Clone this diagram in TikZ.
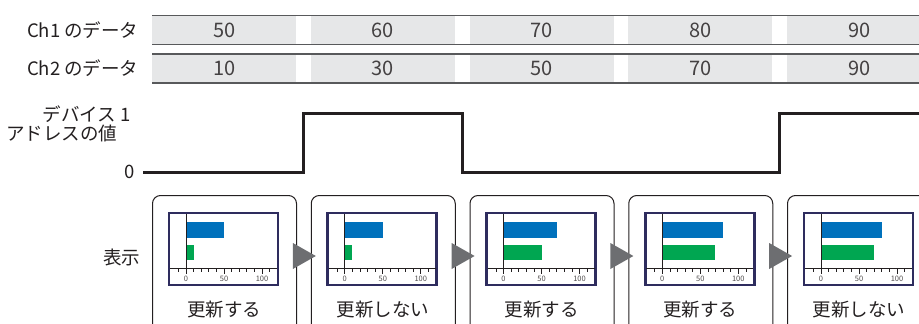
\documentclass[tikz,border=0pt]{standalone}
\usepackage{fontspec}
\setmainfont{Noto Sans CJK JP}
\usetikzlibrary{calc}
\definecolor{CellGray}{HTML}{E6E7E8}
\definecolor{RuleGray}{HTML}{58595B}
\definecolor{ArrowGray}{HTML}{6D6E71}
\definecolor{BarBlue}{HTML}{0071BC}
\definecolor{BarGreen}{HTML}{00A651}
\definecolor{FrameNavy}{HTML}{2E2C5E}
\definecolor{InkBlack}{HTML}{231F20}

\begin{document}
\begin{tikzpicture}[x=1pt, y=-1pt,
      cell/.style={fill=CellGray, minimum width=144pt, minimum height=29pt, inner sep=0pt,
                   anchor=west, text=InkBlack!85, font=\fontsize{20}{22}\selectfont},
      rowlabel/.style={anchor=east, text=InkBlack, font=\fontsize{18.5}{21}\selectfont},
      panel/.style={draw=InkBlack, line width=1pt, rounded corners=8pt, anchor=north west,
                    minimum width=144pt, minimum height=150pt},
      ticklabel/.style={font=\fontsize{7.5}{8}\selectfont, text=InkBlack!80, inner sep=0pt}]
      \useasboundingbox (0,0) rectangle (919,324);
      \clip (0,0) rectangle (919,324);

      % Row labels
      \node[rowlabel] (ch1) at (142,30) {Ch1 のデータ};
      \node[rowlabel] (ch2) at (142,68.5) {Ch2 のデータ};
      \node[rowlabel] (dev) at (134,114) {デバイス 1};
      \node[rowlabel] (addr) at (121,133) {アドレスの値};
      \node[rowlabel] (zero) at (138,172) {0};
      \node[rowlabel] (disp) at (144,257) {表示};

      % Columns: data cells and display panels
      \foreach \i/\a/\b/\va/\vb/\txt in {0/50/10/50/10/更新する, 1/60/30/50/10/更新しない,
          2/70/50/70/50/更新する, 3/80/70/80/70/更新する, 4/90/90/80/70/更新しない} {
        \pgfmathsetmacro\lx{152+158.75*\i}
        \node[cell] (ca\i) at (\lx,30) {\a};
        \node[cell] (cb\i) at (\lx,68.5) {\b};
        \node[panel] (p\i) at (\lx,195) {};
        % display frame
        \draw[FrameNavy, line width=2.8pt, fill=white] (\lx+17,213) rectangle (\lx+126,285);
        \fill[BarBlue] (\lx+34,222) rectangle (\lx+34+0.76*\va,238);
        \fill[BarGreen] (\lx+34,245) rectangle (\lx+34+0.76*\vb,260);
        \draw[InkBlack, line width=0.9pt] (\lx+34,214) -- (\lx+34,268);
        \draw[InkBlack, line width=0.9pt] (\lx+18,268) -- (\lx+125,268);
        \foreach \k in {-1,...,11}
          \draw[InkBlack, line width=0.7pt] (\lx+34+7.6*\k,268) -- (\lx+34+7.6*\k,272);
        \foreach \k in {0,5,10}
          \draw[InkBlack, line width=0.7pt] (\lx+34+7.6*\k,268) -- (\lx+34+7.6*\k,274);
        \node[ticklabel] at (\lx+34,278.5) {0};
        \node[ticklabel] at (\lx+72,278.5) {50};
        \node[ticklabel] at (\lx+110,278.5) {100};
        \node[text=InkBlack, font=\fontsize{18.5}{21}\selectfont] (lab\i) at (\lx+72,310) {\txt};
      }

      % Rules of the data rows
      \draw[RuleGray, line width=1pt] (ca0.north west) -- (ca4.north east);
      \draw[RuleGray, line width=1.5pt] (ca0.south west) -- (ca4.south east);
      \draw[RuleGray, line width=1.5pt] (cb0.north west) -- (cb4.north east);
      \draw[RuleGray, line width=1.5pt] (cb0.south west) -- (cb4.south east);

      % Device value waveform
      \coordinate (w0) at (143,172);
      \coordinate (w1) at (303.5,172);
      \coordinate (w2) at (462,113);
      \coordinate (w3) at (779.5,172);
      \draw[InkBlack, line width=3pt] (w0) -- (w1) |- (w2) |- (w3) |- (925,113);

      % Arrows between panels
      \foreach \i [evaluate=\i as \j using int(\i+1)] in {0,...,3} {
        \coordinate (g\i) at ($(p\i.north east)!0.5!(p\j.north west)+(0,61)$);
        \fill[ArrowGray] ($(g\i)+(-11,-13)$) -- ($(g\i)+(12,0)$) -- ($(g\i)+(-11,13)$) -- cycle;
      }
    \end{tikzpicture}
\end{document}
